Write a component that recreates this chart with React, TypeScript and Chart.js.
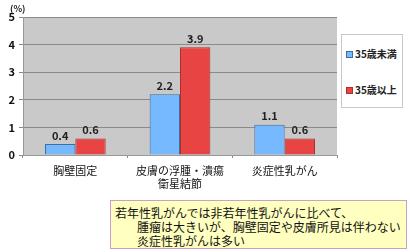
import React, { useEffect, useRef } from "react";
import { Chart, registerables } from "chart.js";

Chart.register(...registerables);

const categories: (string | string[])[] = ["胸壁固定", ["皮膚の浮腫・潰瘍", "衛星結節"], "炎症性乳がん"];
const seriesNames = ["35歳未満", "35歳以上"];
const under35 = [0.4, 2.2, 1.1];
const over35 = [0.6, 3.9, 0.6];
const yTicks = [0, 1, 2, 3, 4, 5];
const seriesColors = ["#77B9FF", "#E84444"];
const seriesBorders = ["#3C6E9E", "#A83030"];
const noteLines = [
  "若年性乳がんでは非若年性乳がんに比べて、",
  "腫瘤は大きいが、胸壁固定や皮膚所見は伴わない",
  "炎症性乳がんは多い",
];

const FONT = "'Noto Sans CJK JP', 'DejaVu Sans', sans-serif";

const bgPlugin = {
  id: "plotBg",
  beforeDraw(chart: any) {
    const { ctx, chartArea } = chart;
    ctx.save();
    ctx.fillStyle = "#C9C9C9";
    ctx.fillRect(chartArea.left, chartArea.top, chartArea.right - chartArea.left, chartArea.bottom - chartArea.top);
    ctx.restore();
  },
};

const labelPlugin = {
  id: "valueLabels",
  afterDatasetsDraw(chart: any) {
    const { ctx } = chart;
    ctx.save();
    ctx.font = `bold 11px ${FONT}`;
    ctx.fillStyle = "#222";
    ctx.textAlign = "center";
    ctx.textBaseline = "bottom";
    chart.data.datasets.forEach((ds: any, i: number) => {
      const meta = chart.getDatasetMeta(i);
      meta.data.forEach((bar: any, j: number) => {
        ctx.fillText(Number(ds.data[j]).toFixed(1), bar.x, bar.y - 3);
      });
    });
    ctx.restore();
  },
};

const unitPlugin = {
  id: "unitLabel",
  afterDraw(chart: any) {
    const { ctx } = chart;
    ctx.save();
    ctx.font = `bold 9px ${FONT}`;
    ctx.fillStyle = "#222";
    ctx.textAlign = "left";
    ctx.textBaseline = "middle";
    ctx.fillText("(%)", 10, 9);
    ctx.restore();
  },
};

export default function App() {
  const ref = useRef<HTMLCanvasElement>(null);
  useEffect(() => {
    document.body.style.margin = "0";
    const chart = new Chart(ref.current!, {
      type: "bar",
      data: {
        labels: categories as any,
        datasets: [
          {
            label: seriesNames[0],
            data: under35,
            backgroundColor: seriesColors[0],
            borderColor: seriesBorders[0],
            borderWidth: 1,
            categoryPercentage: 0.58,
            barPercentage: 1,
          },
          {
            label: seriesNames[1],
            data: over35,
            backgroundColor: seriesColors[1],
            borderColor: seriesBorders[1],
            borderWidth: 1,
            categoryPercentage: 0.58,
            barPercentage: 1,
          },
        ],
      },
      options: {
        animation: false,
        responsive: false,
        maintainAspectRatio: false,
        layout: { padding: { top: 17, right: 73, left: 0, bottom: 0 } },
        plugins: { legend: { display: false }, tooltip: { enabled: false } },
        scales: {
          x: {
            grid: { display: true, drawOnChartArea: false, offset: true, tickLength: 3, color: "#888" },
            border: { color: "#999" },
            ticks: {
              color: "#111",
              font: { family: FONT, size: 11 },
              padding: 6,
              maxRotation: 0,
              autoSkip: false,
            },
            afterFit(scale: any) {
              scale.height = 97;
            },
          },
          y: {
            min: 0,
            max: 5,
            afterBuildTicks(scale: any) {
              scale.ticks = yTicks.map((v) => ({ value: v }));
            },
            grid: { color: "#8A8A8A", tickLength: 4 },
            border: { color: "#999" },
            ticks: {
              color: "#111",
              font: { family: FONT, size: 11, weight: "bold" },
              padding: 4,
            },
            afterFit(scale: any) {
              scale.width = 23;
            },
          },
        },
      },
      plugins: [bgPlugin, labelPlugin, unitPlugin],
    });
    return () => chart.destroy();
  }, []);

  return (
    <div style={{ position: "relative", width: 410, height: 252, fontFamily: FONT }}>
      <canvas ref={ref} width={410} height={252} style={{ position: "absolute", left: 0, top: 0 }} />
      <div
        style={{
          position: "absolute",
          left: 341,
          top: 34,
          width: 62,
          height: 74,
          border: "1px solid #C8C8C8",
          background: "#fff",
          boxSizing: "border-box",
          fontSize: 10,
          fontWeight: "bold",
          color: "#222",
        }}
      >
        {seriesNames.map((n, i) => (
          <div
            key={n}
            style={{
              position: "absolute",
              left: 4,
              top: i === 0 ? 12 : 48,
              display: "flex",
              alignItems: "center",
              whiteSpace: "nowrap",
              lineHeight: "14px",
            }}
          >
            <span
              style={{
                display: "inline-block",
                width: 5,
                height: 5,
                background: seriesColors[i],
                border: `1px solid ${seriesBorders[i]}`,
                marginRight: 2,
              }}
            />
            {n}
          </div>
        ))}
      </div>
      <div
        style={{
          position: "absolute",
          left: 110,
          top: 200,
          width: 297,
          height: 49,
          background: "#FFFFC0",
          border: "1px solid #C8A0C8",
          boxSizing: "border-box",
          fontSize: 12,
          color: "#111",
          lineHeight: "14px",
          paddingTop: 5,
        }}
      >
        {noteLines.map((l, i) => (
          <div key={i} style={{ paddingLeft: i === 0 ? 4 : 26, whiteSpace: "nowrap" }}>
            {l}
          </div>
        ))}
      </div>
    </div>
  );
}
